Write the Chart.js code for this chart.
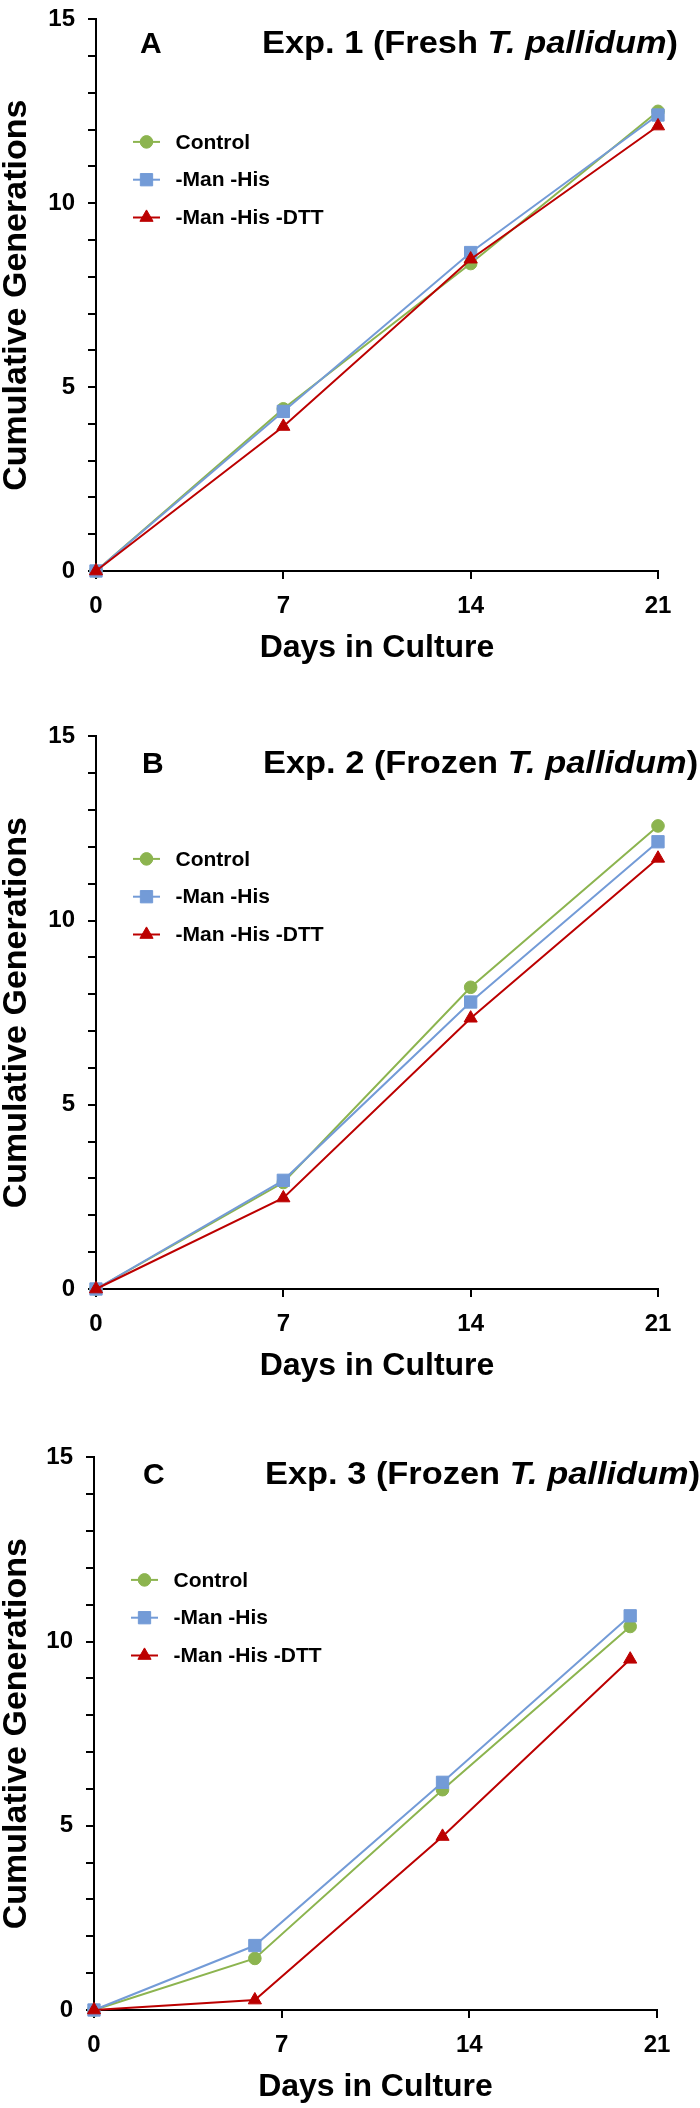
<!DOCTYPE html>
<html>
<head>
<meta charset="utf-8">
<script src="https://cdn.jsdelivr.net/npm/chart.js@4.4.1/dist/chart.umd.min.js"></script>
<style>
  html, body { margin: 0; padding: 0; background: #fff; }
  body { width: 700px; height: 2108px; position: relative; overflow: hidden; }
  canvas { position: absolute; left: 0; }
</style>
</head>
<body>
<canvas id="chartA"></canvas>
<canvas id="chartB"></canvas>
<canvas id="chartC"></canvas>
<script>
// --- data ---
const seriesNames = ['Control', '-Man -His', '-Man -His -DTT'];
const yTickLabels = [0, 5, 10, 15];
const xTickLabels = [0, 7, 14, 21];

// Exp. 1 (fresh)
const daysExp1 = [0, 7, 14, 21];
const exp1Control = [0, 4.41, 8.36, 12.50];
const exp1ManHis = [0, 4.34, 8.66, 12.40];
const exp1Dtt = [0, 3.93, 8.48, 12.10];

// Exp. 2 (frozen)
const daysExp2 = [0, 7, 14, 21];
const exp2Control = [0, 2.89, 8.19, 12.57];
const exp2ManHis = [0, 2.95, 7.79, 12.14];
const exp2Dtt = [0, 2.47, 7.35, 11.69];

// Exp. 3 (frozen) - sampled on days 6, 13, 20
const daysExp3 = [0, 6, 13, 20];
const exp3Control = [0, 1.40, 5.98, 10.41];
const exp3ManHis = [0, 1.75, 6.18, 10.70];
const exp3Dtt = [0, 0.27, 4.71, 9.52];

// --- styles ---
const colors = ['#8cb44f', '#739bd7', '#bc0000'];
const pointStyles = ['circle', 'rect', 'triangle'];
const pointRadii = [6.3, 8.7, 7.6];
const FONT = '"Liberation Sans", Arial, Helvetica, sans-serif';
const PAD_TOP = 20;
const X_AXIS_H = 100;

Chart.defaults.font.family = FONT;
Chart.defaults.color = '#000';

// draws the panel letter, the title (with italic species name) and the legend inside the plot
const panelText = {
    id: 'panelText',
    afterDraw(chart, args, opts) {
        const { ctx, chartArea } = chart;
        ctx.save();
        ctx.fillStyle = '#000';
        ctx.textBaseline = 'alphabetic';
        ctx.textAlign = 'left';
        const by = chartArea.top + opts.titleOffset;

        ctx.font = 'bold 30px ' + FONT;
        ctx.fillText(opts.letter, opts.letterX, by);

        const normal = 'bold 32px ' + FONT;
        const italic = 'italic bold 32px ' + FONT;
        const pieces = [
            [normal, 'Exp. ' + opts.expNo + ' (' + opts.state + ' '],
            [italic, 'T. pallidum'],
            [normal, ')']
        ];
        // the original title is a bit wider than the font: stretch to match Exp. 1 width
        const refPieces = [[normal, 'Exp. 1 (Fresh '], [italic, 'T. pallidum'], [normal, ')']];
        let refW = 0;
        refPieces.forEach(p => { ctx.font = p[0]; refW += ctx.measureText(p[1]).width; });
        const sx = 416 / refW;
        ctx.translate(opts.titleX, by);
        ctx.scale(sx, 1);
        let cx = 0;
        pieces.forEach(p => {
            ctx.font = p[0];
            ctx.fillText(p[1], cx, 0);
            cx += ctx.measureText(p[1]).width;
        });
        ctx.setTransform(1, 0, 0, 1, 0, 0);

        // legend
        chart.data.datasets.forEach((ds, i) => {
            const y = chartArea.top + 122.5 + i * 37.8;
            const x0 = chartArea.left + 37;
            const x1 = chartArea.left + 64;
            const xm = chartArea.left + 50.5;
            ctx.strokeStyle = ds.borderColor;
            ctx.lineWidth = 2;
            ctx.beginPath();
            ctx.moveTo(x0, y);
            ctx.lineTo(x1, y);
            ctx.stroke();
            ctx.fillStyle = ds.pointBackgroundColor;
            ctx.lineWidth = 1;
            Chart.helpers.drawPoint(ctx, { pointStyle: ds.pointStyle, radius: ds.pointRadius, borderWidth: 1, rotation: 0 }, xm, y);
            ctx.fillStyle = '#000';
            ctx.font = 'bold 21px ' + FONT;
            ctx.textBaseline = 'middle';
            ctx.fillText(ds.label, chartArea.left + 79.5, y + 1);
        });
        ctx.restore();
    }
};

function makePanel(id, p) {
    const canvas = document.getElementById(id);
    canvas.width = 700;
    canvas.height = PAD_TOP + p.plotH + X_AXIS_H;
    canvas.style.top = (p.plotTop - PAD_TOP) + 'px';

    const series = [p.control, p.manHis, p.dtt];
    const datasets = series.map((vals, i) => ({
        label: seriesNames[i],
        data: vals.map((v, j) => ({ x: p.days[j], y: v })),
        borderColor: colors[i],
        backgroundColor: colors[i],
        pointBackgroundColor: colors[i],
        pointBorderColor: colors[i],
        pointStyle: pointStyles[i],
        pointRadius: pointRadii[i],
        pointBorderWidth: 1,
        borderWidth: 2,
        tension: 0,
        clip: false,
        order: 3 - i   // red on top, green at the bottom
    }));

    const axisGrid = { drawOnChartArea: false, drawTicks: true, tickLength: 8, color: '#000', lineWidth: 2 };
    const axisBorder = { display: true, color: '#000', width: 2 };

    new Chart(canvas, {
        type: 'line',
        data: { datasets: datasets },
        options: {
            responsive: false,
            animation: false,
            layout: { padding: { top: PAD_TOP, right: 700 - p.plotRight, bottom: 0, left: 0 } },
            plugins: {
                legend: { display: false },
                tooltip: { enabled: false },
                panelText: {
                    letter: p.letter, letterX: p.letterX,
                    expNo: p.expNo, state: p.state,
                    titleX: p.titleX, titleOffset: p.titleOffset
                }
            },
            scales: {
                x: {
                    type: 'linear',
                    min: 0,
                    max: 21,
                    afterFit: s => { s.height = X_AXIS_H; },
                    afterBuildTicks: s => { s.ticks = xTickLabels.map(v => ({ value: v })); },
                    ticks: { font: { size: 24, weight: 'bold' }, color: '#000', padding: 13, maxRotation: 0 },
                    grid: axisGrid,
                    border: axisBorder,
                    title: {
                        display: true, text: 'Days in Culture', color: '#000',
                        font: { size: 32, weight: 'bold', lineHeight: 1 },
                        padding: { top: 0, bottom: 7 }
                    }
                },
                y: {
                    min: 0,
                    max: 15,
                    afterFit: s => { s.width = p.plotLeft; },
                    ticks: {
                        stepSize: 1,
                        autoSkip: false,
                        font: { size: 24, weight: 'bold' },
                        color: '#000',
                        padding: 13,
                        callback: v => yTickLabels.includes(v) ? String(v) : ''
                    },
                    grid: axisGrid,
                    border: axisBorder,
                    title: {
                        display: true, text: 'Cumulative Generations', color: '#000',
                        font: { size: 34, weight: 'bold', lineHeight: 1 },
                        padding: { top: 0, bottom: 0 }
                    }
                }
            }
        },
        plugins: [panelText]
    });
}

makePanel('chartA', {
    plotTop: 12, plotH: 559, plotLeft: 96, plotRight: 658,
    days: daysExp1, control: exp1Control, manHis: exp1ManHis, dtt: exp1Dtt,
    letter: 'A', letterX: 140, expNo: 1, state: 'Fresh', titleX: 262, titleOffset: 33.5
});
makePanel('chartB', {
    plotTop: 729, plotH: 560, plotLeft: 96, plotRight: 658,
    days: daysExp2, control: exp2Control, manHis: exp2ManHis, dtt: exp2Dtt,
    letter: 'B', letterX: 142, expNo: 2, state: 'Frozen', titleX: 263, titleOffset: 36.5
});
makePanel('chartC', {
    plotTop: 1450, plotH: 560, plotLeft: 94, plotRight: 657,
    days: daysExp3, control: exp3Control, manHis: exp3ManHis, dtt: exp3Dtt,
    letter: 'C', letterX: 143, expNo: 3, state: 'Frozen', titleX: 265, titleOffset: 27
});
</script>
</body>
</html>
